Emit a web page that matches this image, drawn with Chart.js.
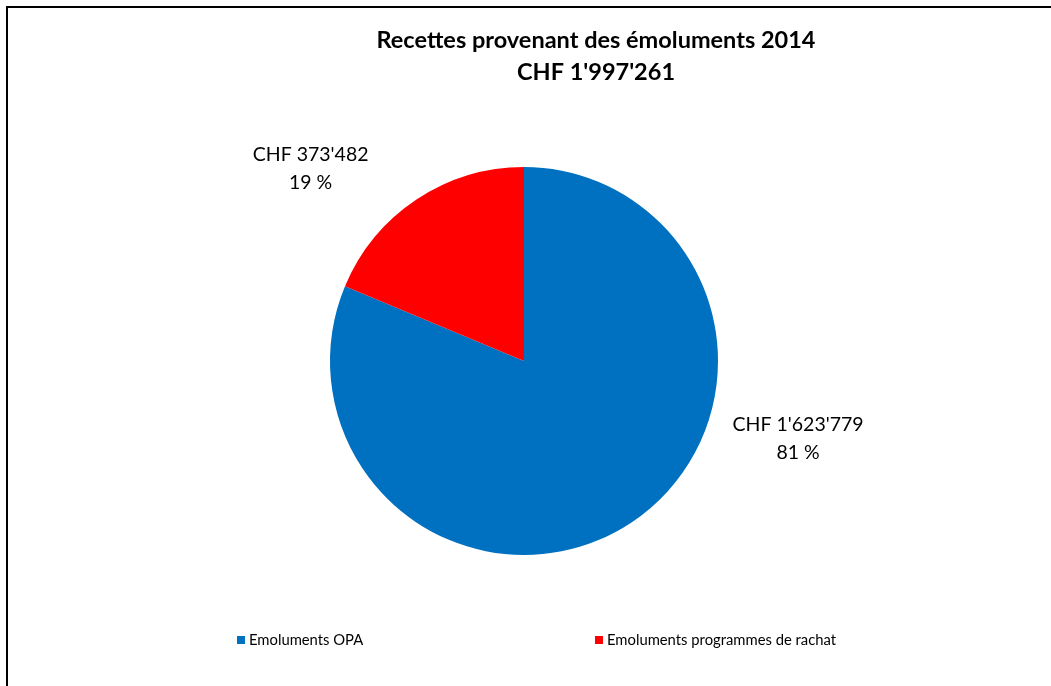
<!DOCTYPE html>
<html>
<head>
<meta charset="utf-8">
<script src="https://cdn.jsdelivr.net/npm/chart.js@4.4.1/dist/chart.umd.min.js"></script>
<style>
    html, body { margin: 0; padding: 0; background: #fff; overflow: hidden; }
    #wrap { position: relative; width: 1051px; height: 686px; }
    #frame { position: absolute; left: 6px; top: 6px; width: 1100px; height: 800px;
             border-top: 2px solid #000; border-left: 2px solid #000; }
    canvas { position: absolute; left: 0; top: 0; }
</style>
</head>
<body>
<div id="wrap">
    <div id="frame"></div>
    <canvas id="chart" width="1051" height="686"></canvas>
</div>
<script>
const titleLines = ["Recettes provenant des émoluments 2014", "CHF 1'997'261"];
const categories = ["Emoluments OPA", "Emoluments programmes de rachat"];
const amounts = [1623779, 373482];
const amountLabels = ["CHF 1'623'779", "CHF 373'482"];
const percentLabels = ["81 %", "19 %"];
const colors = ["#0070C0", "#FF0000"];

const FONT = "Lato, 'Open Sans', sans-serif";

// where the value labels go, relative to the pie (angle in degrees, distance in radii)
const labelPlacement = [
    { angle: 15.9, dist: 1.469 },
    { angle: 222.0, dist: 1.48 }
];

// title, value labels and legend drawn after the pie
const decorations = {
    id: "decorations",
    afterDraw(chart) {
        const ctx = chart.ctx;
        ctx.save();
        ctx.fillStyle = "#000";
        ctx.textAlign = "center";
        ctx.textBaseline = "middle";

        // title
        ctx.font = "bold 23.5px " + FONT;
        ctx.fillText(titleLines[0], 596, 40);
        ctx.fillText(titleLines[1], 596, 72);

        // value labels
        ctx.font = "19.5px " + FONT;
        const arcs = chart.getDatasetMeta(0).data;
        arcs.forEach((arc, i) => {
            const p = labelPlacement[i];
            const a = p.angle * Math.PI / 180;
            const x = arc.x + Math.cos(a) * arc.outerRadius * p.dist;
            const y = arc.y + Math.sin(a) * arc.outerRadius * p.dist;
            ctx.fillText(amountLabels[i], x, y - 14);
            ctx.fillText(percentLabels[i], x, y + 14);
        });

        // legend
        ctx.font = "14.8px " + FONT;
        ctx.textAlign = "left";
        const legendX = [237, 595];
        categories.forEach((name, i) => {
            ctx.fillStyle = colors[i];
            ctx.fillRect(legendX[i], 636, 8, 8);
            ctx.fillStyle = "#000";
            ctx.fillText(name, legendX[i] + 12, 640);
        });
        ctx.restore();
    }
};

new Chart(document.getElementById("chart"), {
    type: "pie",
    data: {
        labels: categories,
        datasets: [{
            data: amounts,
            backgroundColor: colors,
            borderWidth: 0
        }]
    },
    options: {
        responsive: false,
        animation: false,
        layout: { padding: { left: 330, right: 333, top: 167, bottom: 131 } },
        plugins: {
            legend: { display: false },
            title: { display: false },
            tooltip: { enabled: false }
        }
    },
    plugins: [decorations]
});
</script>
</body>
</html>
